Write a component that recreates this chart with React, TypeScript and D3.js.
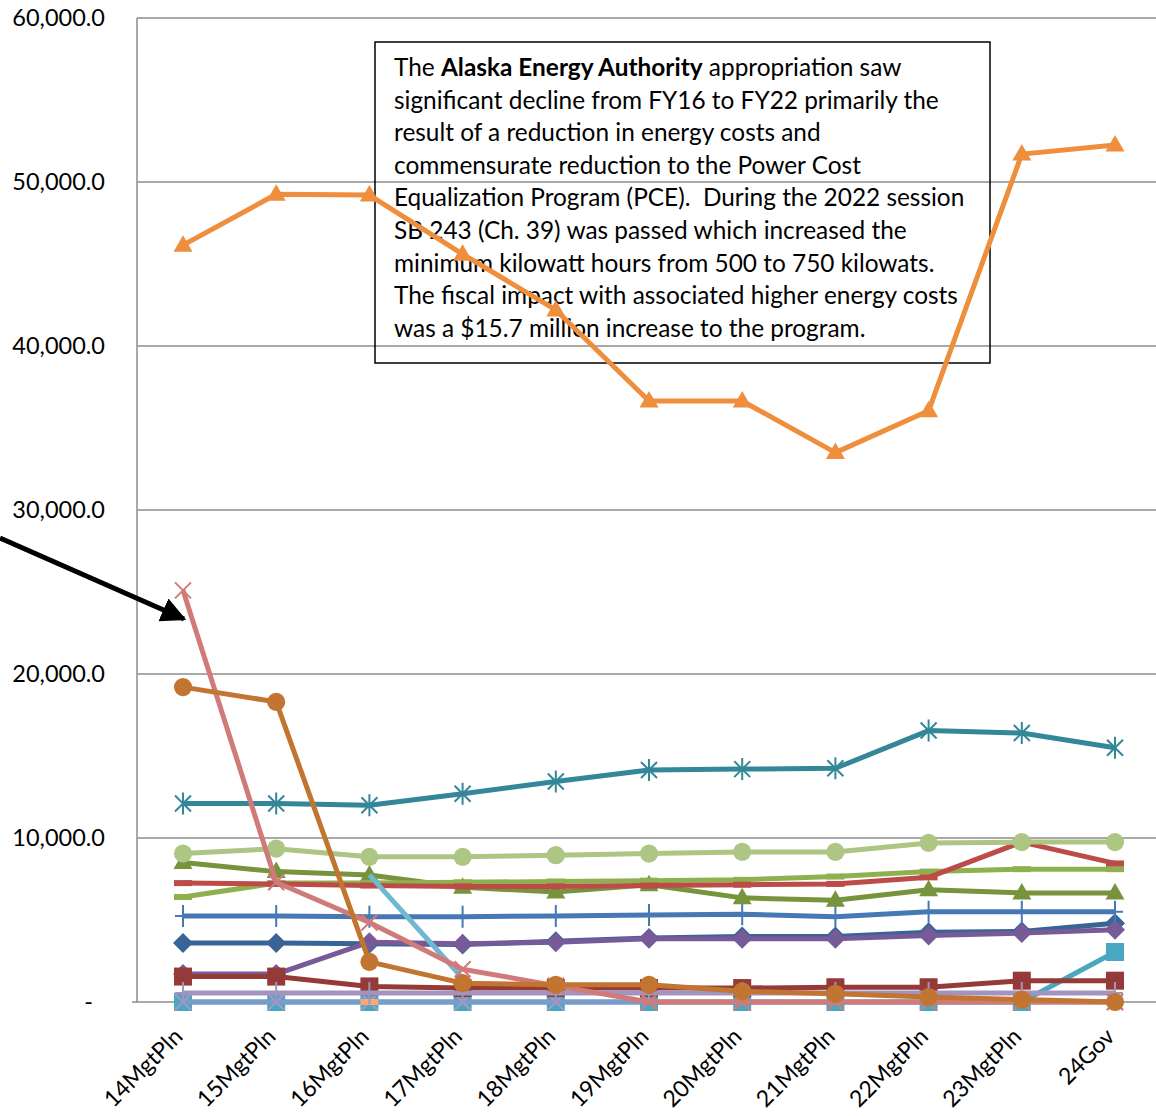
import * as d3 from "d3";

const categories = [
  "14MgtPln", "15MgtPln", "16MgtPln", "17MgtPln", "18MgtPln", "19MgtPln",
  "20MgtPln", "21MgtPln", "22MgtPln", "23MgtPln", "24Gov",
];

type V = number | null;

// values (thousands of dollars)
const tealSquares: V[] = [0, 0, 0, 0, 0, 0, 0, 0, 0, 0, 3050];
const periwinkle: V[] = [0, 0, 0, 0, 0, 0, 0, 0, 0, 0, 0];
const lightOrange: V[] = [null, null, 0, null, null, null, null, null, null, null, null];
const darkBlueDiamond: V[] = [3600, 3600, 3550, 3500, 3700, 3900, 4000, 4000, 4250, 4300, 4800];
const purpleDiamond: V[] = [1700, 1700, 3650, 3550, 3650, 3850, 3850, 3850, 4050, 4200, 4400];
const bluePlus: V[] = [5250, 5250, 5200, 5200, 5250, 5300, 5350, 5200, 5500, 5500, 5500];
const olive: V[] = [8500, 7950, 7750, 7000, 6700, 7150, 6350, 6200, 6850, 6650, 6650];
const mediumGreen: V[] = [6400, 7250, 7250, 7300, 7350, 7400, 7450, 7650, 7950, 8100, 8100];
const red: V[] = [7250, 7200, 7100, 7050, 7050, 7100, 7150, 7200, 7600, 9750, 8450];
const lightGreen: V[] = [9050, 9350, 8850, 8850, 8950, 9050, 9150, 9150, 9700, 9750, 9750];
const tealStar: V[] = [12100, 12100, 12000, 12700, 13450, 14150, 14200, 14250, 16550, 16400, 15500];
const brownCircle: V[] = [19200, 18300, 2450, 1150, 1050, 1050, 650, 500, 300, 150, 0];
const darkRedSquare: V[] = [1550, 1550, 950, 850, 850, 850, 850, 900, 900, 1300, 1300];
const lavender: V[] = [550, 550, 550, 550, 550, 550, 550, 550, 550, 550, 550];
const lightBlue: V[] = [null, null, 7750, 1450, null, null, null, null, null, null, null];
const pinkX: V[] = [25100, 7300, 4850, 2000, 1000, 0, 0, 0, 0, 0, 0];
const orangeTriangle: V[] = [46150, 49250, 49200, 45600, 42200, 36650, 36650, 33500, 36050, 51700, 52250];

const yTicks = [0, 10000, 20000, 30000, 40000, 50000, 60000];

const noteLines = [
  "significant decline from FY16 to FY22 primarily the",
  "result of a reduction in energy costs and",
  "commensurate reduction to the Power Cost",
  "Equalization Program (PCE).  During the 2022 session",
  "SB 243 (Ch. 39) was passed which increased the",
  "minimum kilowatt hours from 500 to 750 kilowats.",
  "The fiscal impact with associated higher energy costs",
  "was a $15.7 million increase to the program.",
];

type Marker = "none" | "triangle" | "circle" | "square" | "diamond" | "star" | "x" | "plus" | "dash";

interface Series {
  values: V[];
  color: string;
  marker: Marker;
  markerColor?: string;
}

// drawing order: first is bottom
const series: Series[] = [
  { values: tealSquares, color: "#4AA7C0", marker: "square" },
  { values: periwinkle, color: "#7D9BCA", marker: "x", markerColor: "#A997C6" },
  { values: lightOrange, color: "#F8A977", marker: "dash" },
  { values: darkBlueDiamond, color: "#386496", marker: "diamond" },
  { values: purpleDiamond, color: "#775A98", marker: "diamond" },
  { values: bluePlus, color: "#4678B4", marker: "plus" },
  { values: olive, color: "#77933C", marker: "triangle" },
  { values: mediumGreen, color: "#8FB04E", marker: "dash" },
  { values: red, color: "#BD4B48", marker: "dash" },
  { values: lightGreen, color: "#ADC683", marker: "circle" },
  { values: tealStar, color: "#348799", marker: "star" },
  { values: darkRedSquare, color: "#953A37", marker: "square" },
  { values: lavender, color: "#A293BF", marker: "plus" },
  { values: lightBlue, color: "#6EB8D2", marker: "none" },
  { values: pinkX, color: "#D07B79", marker: "x" },
  { values: brownCircle, color: "#C27431", marker: "circle" },
  { values: orangeTriangle, color: "#EF8E3C", marker: "triangle" },
];

const W = 1156;
const H = 1116;
const plotLeft = 137;
const plotTop = 18;
const plotBottom = 1002;

const x = d3.scalePoint<string>().domain(categories).range([183, 1115]);
const y = d3.scaleLinear().domain([0, 60000]).range([plotBottom, plotTop]);

const fmt = d3.format(",.1f");
const font = "Lato, 'Open Sans', sans-serif";

function markerPath(m: Marker): string {
  switch (m) {
    case "triangle":
      return "M0,-10L9.5,6.5L-9.5,6.5Z";
    case "circle":
      return d3.symbol(d3.symbolCircle, 260)() || "";
    case "square":
      return "M-9,-9H9V9H-9Z";
    case "diamond":
      return "M0,-10L10,0L0,10L-10,0Z";
    case "star":
      return "M-8,-8L8,8M-8,8L8,-8M0,-11V11";
    case "x":
      return "M-8,-8L8,8M-8,8L8,-8";
    case "plus":
      return "M0,-11V11M-8,0H8";
    case "dash":
      return "M-9,-3H9V3H-9Z";
    default:
      return "";
  }
}

const strokeMarkers: Marker[] = ["star", "x", "plus"];

export default function App() {
  const line = d3
    .line<V>()
    .defined((d) => d != null)
    .x((_, i) => x(categories[i]) as number)
    .y((d) => y(d as number));

  return (
    <svg
      width={W}
      height={H}
      style={{ position: "absolute", left: 0, top: 0, background: "#fff" }}
    >
      {/* gridlines */}
      {yTicks.map((t) => (
        <line
          key={t}
          x1={t === 0 ? plotLeft - 5 : plotLeft}
          x2={W}
          y1={y(t)}
          y2={y(t)}
          stroke="#8c8c8c"
          strokeWidth={1.5}
        />
      ))}
      <line x1={plotLeft} x2={plotLeft} y1={plotTop} y2={plotBottom} stroke="#8c8c8c" strokeWidth={1.5} />

      {/* y labels */}
      {yTicks.map((t) => (
        <text
          key={t}
          x={t === 0 ? 93 : 105}
          y={y(t)}
          dy="0.35em"
          textAnchor="end"
          fontFamily={font}
          fontSize={23.5}
          fill="#000"
        >
          {t === 0 ? "-" : fmt(t)}
        </text>
      ))}

      {/* x labels */}
      {categories.map((c) => (
        <text
          key={c}
          transform={`translate(${(x(c) as number) + 1},${1038}) rotate(-45)`}
          textAnchor="end"
          fontFamily={font}
          fontSize={23}
          fill="#000"
        >
          {c}
        </text>
      ))}

      {/* note box */}
      <rect x={375} y={42} width={615} height={321} fill="none" stroke="#000" strokeWidth={1.5} />
      <text fontFamily={font} fontSize={24.4} fill="#000" style={{ whiteSpace: "pre" }}>
        <tspan x={394} y={76}>
          The <tspan fontWeight="bold">Alaska Energy Authority</tspan> appropriation saw
        </tspan>
        {noteLines.map((l, i) => (
          <tspan key={i} x={394} y={76 + (i + 1) * 32.6}>
            {l}
          </tspan>
        ))}
      </text>

      {/* series */}
      {series.map((s, si) => (
        <g key={si}>
          <path
            d={line(s.values) || ""}
            fill="none"
            stroke={s.color}
            strokeWidth={5}
            strokeLinejoin="round"
          />
          {s.marker !== "none" &&
            s.values.map((v, i) =>
              v == null ? null : (
                <path
                  key={i}
                  transform={`translate(${x(categories[i])},${y(v)})`}
                  d={markerPath(s.marker)}
                  fill={strokeMarkers.includes(s.marker) ? "none" : s.color}
                  stroke={strokeMarkers.includes(s.marker) ? s.markerColor || s.color : "none"}
                  strokeWidth={2}
                />
              )
            )}
        </g>
      ))}

      {/* arrow */}
      <defs>
        <marker id="arrowHead" viewBox="0 0 10 10" refX={9} refY={5} markerWidth={5} markerHeight={5} orient="auto">
          <path d="M0,0L10,5L0,10Z" fill="#000" />
        </marker>
      </defs>
      <line x1={0} y1={538} x2={184} y2={619} stroke="#000" strokeWidth={5} markerEnd="url(#arrowHead)" />
    </svg>
  );
}
